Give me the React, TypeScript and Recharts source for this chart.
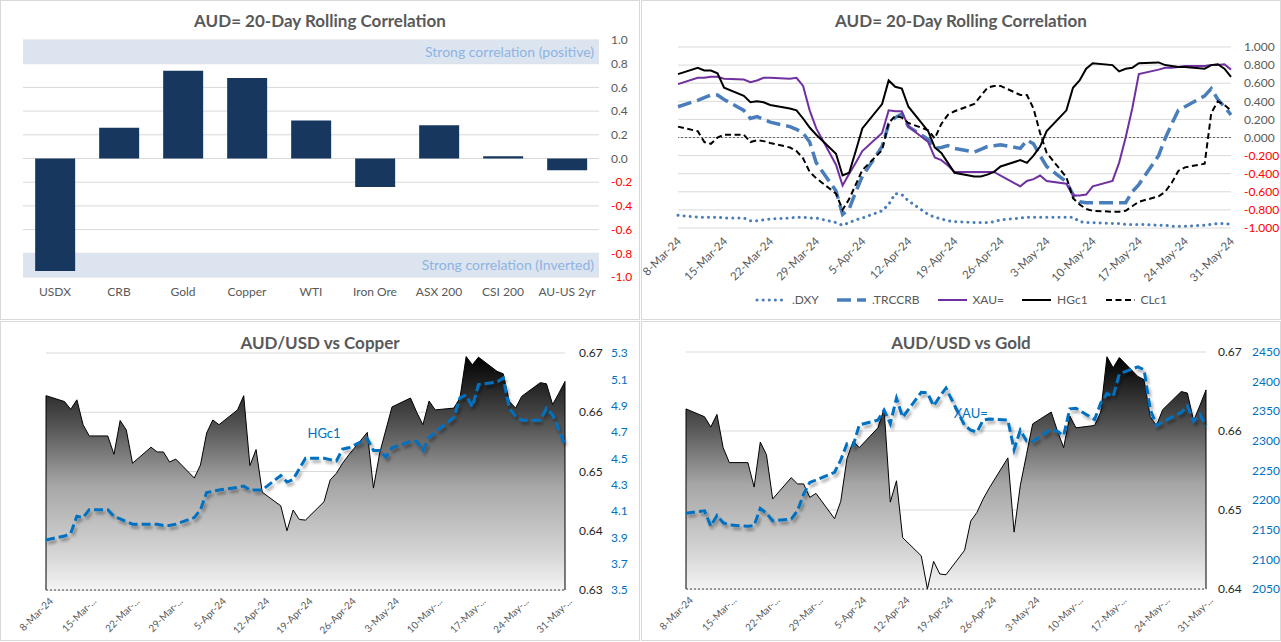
import React from 'react';
import {
  BarChart, Bar, XAxis, YAxis, CartesianGrid, ReferenceArea, ReferenceLine,
  LineChart, Line, ComposedChart, Area,
} from 'recharts';

const FONT = 'Lato, "Liberation Sans", sans-serif';
const GREY = '#595959';

// ---- 20-day rolling correlation snapshot (top left)
const corrNames = ['USDX', 'CRB', 'Gold', 'Copper', 'WTI', 'Iron Ore', 'ASX 200', 'CSI 200', 'AU-US 2yr'];
const corrValues = [-0.95, 0.26, 0.74, 0.68, 0.32, -0.24, 0.28, 0.02, -0.1];
const corrTicks = [-1, -0.8, -0.6, -0.4, -0.2, 0, 0.2, 0.4, 0.6, 0.8, 1];

// ---- trading days, as day offsets from 8-Mar-24
const tradeDays = [
  0, 3, 4, 5, 6, 7, 10, 11, 12, 13, 14, 17, 18, 19, 20, 21, 24, 25, 26, 27, 28,
  31, 32, 33, 34, 35, 38, 39, 40, 41, 42, 45, 46, 47, 48, 49, 52, 53, 54, 55, 56,
  59, 60, 61, 62, 63, 66, 67, 68, 69, 70, 73, 74, 75, 76, 77, 80, 81, 82, 83, 84,
];
const weekTicks = [0, 7, 14, 21, 28, 35, 42, 49, 56, 63, 70, 77, 84];
const corrDateLabels = ['8-Mar-24', '15-Mar-24', '22-Mar-24', '29-Mar-24', '5-Apr-24', '12-Apr-24', '19-Apr-24',
  '26-Apr-24', '3-May-24', '10-May-24', '17-May-24', '24-May-24', '31-May-24'];
const priceDateLabels = ['8-Mar-24', '15-Mar-...', '22-Mar-...', '29-Mar-...', '5-Apr-24', '12-Apr-24', '19-Apr-24',
  '26-Apr-24', '3-May-24', '10-May-...', '17-May-...', '24-May-...', '31-May-...'];

// ---- rolling correlation series (top right)
const dxyCorr = [
  -0.86, -0.88, -0.88, -0.88, -0.88, -0.89, -0.89, -0.92, -0.92, -0.91, -0.9,
  -0.89, -0.88, -0.88, -0.89, -0.89, -0.94, -0.97, -0.94, -0.91, -0.89,
  -0.81, -0.74, -0.62, -0.63, -0.7, -0.85, -0.88, -0.9, -0.92, -0.93,
  -0.94, -0.94, -0.94, -0.93, -0.91, -0.89, -0.88, -0.88, -0.88, -0.88,
  -0.88, -0.88, -0.93, -0.94, -0.94, -0.95, -0.95, -0.96, -0.96, -0.96,
  -0.97, -0.97, -0.98, -0.98, -0.98, -0.97, -0.96, -0.95, -0.95, -0.96,
];
const crbCorr = [
  0.34, 0.41, 0.44, 0.47, 0.47, 0.42, 0.3, 0.21, 0.23, 0.2, 0.17,
  0.12, 0.09, 0.05, -0.05, -0.28, -0.59, -0.85, -0.79, -0.6, -0.43,
  -0.1, 0.15, 0.22, 0.26, 0.12, -0.02, -0.12, -0.11, -0.09, -0.12,
  -0.16, -0.13, -0.1, -0.09, -0.08, -0.12, -0.03, -0.07, -0.2, -0.32,
  -0.49, -0.63, -0.71, -0.72, -0.72, -0.72, -0.72, -0.72, -0.6, -0.52,
  -0.2, -0.01, 0.15, 0.3, 0.34, 0.46, 0.54, 0.42, 0.34, 0.25,
];
const xauCorr = [
  0.59, 0.66, 0.66, 0.67, 0.67, 0.65, 0.64, 0.61, 0.63, 0.66, 0.66,
  0.65, 0.66, 0.57, 0.3, 0.1, -0.3, -0.53, -0.4, -0.28, -0.15,
  0.05, 0.3, 0.29, 0.29, 0.12, -0.05, -0.22, -0.25, -0.31, -0.38,
  -0.38, -0.38, -0.38, -0.38, -0.42, -0.54, -0.48, -0.46, -0.42, -0.48,
  -0.51, -0.64, -0.64, -0.63, -0.54, -0.48, -0.28, 0.0, 0.32, 0.7,
  0.75, 0.77, 0.77, 0.78, 0.79, 0.79, 0.8, 0.8, 0.81, 0.75,
];
const hgCorr = [
  0.7, 0.77, 0.74, 0.74, 0.71, 0.55, 0.46, 0.39, 0.4, 0.39, 0.36,
  0.32, 0.3, 0.21, 0.11, 0.03, -0.18, -0.42, -0.39, -0.15, 0.1,
  0.37, 0.63, 0.56, 0.54, 0.34, 0.07, -0.11, -0.17, -0.28, -0.39,
  -0.43, -0.43, -0.41, -0.38, -0.32, -0.25, -0.28, -0.2, -0.1, 0.07,
  0.3, 0.55, 0.63, 0.76, 0.82, 0.8, 0.73, 0.76, 0.77, 0.82,
  0.83, 0.8, 0.79, 0.78, 0.78, 0.76, 0.8, 0.81, 0.76, 0.67,
];
const clCorr = [
  0.12, 0.07, -0.05, -0.07, 0.0, 0.03, 0.03, -0.05, -0.03, -0.04, -0.06,
  -0.11, -0.15, -0.23, -0.38, -0.45, -0.62, -0.8, -0.68, -0.52, -0.36,
  -0.14, 0.16, 0.24, 0.22, 0.16, 0.08, -0.01, 0.15, 0.25, 0.29,
  0.37, 0.46, 0.55, 0.57, 0.57, 0.47, 0.47, 0.32, 0.05, -0.17,
  -0.44, -0.67, -0.74, -0.79, -0.81, -0.82, -0.82, -0.81, -0.76, -0.71,
  -0.65, -0.6, -0.5, -0.37, -0.33, -0.29, 0.27, 0.4, 0.36, 0.3,
];

// ---- prices (bottom)
const audUsd = [
  0.6628, 0.6618, 0.6605, 0.6621, 0.6579, 0.656, 0.656, 0.6529, 0.6586, 0.657, 0.6514,
  0.6541, 0.6533, 0.6533, 0.6516, 0.6521, 0.6489, 0.6511, 0.6565, 0.6587, 0.6579,
  0.6604, 0.6628, 0.651, 0.6537, 0.6465, 0.6442, 0.64, 0.6435, 0.6419, 0.6418,
  0.6449, 0.6486, 0.6497, 0.6514, 0.6528, 0.6566, 0.6472, 0.6531, 0.657, 0.6609,
  0.6624, 0.66, 0.6579, 0.6619, 0.6604, 0.6607, 0.6624, 0.6694, 0.668, 0.6693,
  0.6669, 0.6665, 0.6618, 0.6607, 0.6627, 0.665, 0.6648, 0.6613, 0.6632, 0.6652,
];
const copper = [
  3.88, 3.91, 3.93, 4.06, 4.05, 4.11, 4.11, 4.06, 4.04, 4.02, 4.0,
  4.0, 4.0, 3.99, 3.99, 4.0, 4.05, 4.11, 4.24, 4.25, 4.26,
  4.28, 4.29, 4.26, 4.26, 4.26, 4.37, 4.32, 4.34, 4.42, 4.5,
  4.5, 4.49, 4.48, 4.57, 4.58, 4.65, 4.56, 4.56, 4.51, 4.58,
  4.63, 4.63, 4.56, 4.66, 4.7, 4.81, 4.96, 4.98, 4.89, 5.06,
  5.08, 5.11, 4.88, 4.82, 4.79, 4.79, 4.88, 4.83, 4.72, 4.6,
];
const gold = [
  2178, 2182, 2156, 2174, 2162, 2158, 2156, 2157, 2186, 2178, 2165,
  2168, 2182, 2210, 2230, 2234, 2247, 2268, 2295, 2292, 2327,
  2335, 2352, 2329, 2372, 2340, 2382, 2381, 2359, 2375, 2389,
  2326, 2318, 2315, 2335, 2337, 2335, 2285, 2318, 2300, 2299,
  2320, 2316, 2309, 2354, 2355, 2336, 2364, 2380, 2375, 2413,
  2425, 2420, 2353, 2326, 2332, 2348, 2359, 2333, 2345, 2325,
];
const audTicksCu = [0.63, 0.64, 0.65, 0.66, 0.67];
const cuTicks = [3.5, 3.7, 3.9, 4.1, 4.3, 4.5, 4.7, 4.9, 5.1, 5.3];
const audTicksAu = [0.64, 0.65, 0.66, 0.67];
const goldTicks = [2050, 2100, 2150, 2200, 2250, 2300, 2350, 2400, 2450];

const barRows = corrNames.map((name, i) => ({ name, v: corrValues[i] }));
const corrRows = tradeDays.map((d, i) => ({
  d, dxy: dxyCorr[i], crb: crbCorr[i], xau: xauCorr[i], hg: hgCorr[i], cl: clCorr[i],
}));
const cuRows = tradeDays.map((d, i) => ({ d, aud: audUsd[i], px: copper[i] }));
const auRows = tradeDays.map((d, i) => ({ d, aud: audUsd[i], px: gold[i] }));

const BLUE = '#4a7ebb';
const PX_BLUE = '#0070c0';

function Panel({ left, top, title, titleTop, children }: any) {
  return (
    <div style={{
      position: 'absolute', left, top, width: 640, height: 320, background: '#fff',
      boxShadow: 'inset 0 0 0 1px #d9d9d9',
    }}>
      <div style={{
        position: 'absolute', left: 0, top: titleTop, width: 640, textAlign: 'center',
        fontFamily: FONT, fontWeight: 700, fontSize: 17, color: GREY, lineHeight: '20px',
      }}>{title}</div>
      <div style={{ position: 'absolute', left: 0, top: 0 }}>{children}</div>
    </div>
  );
}

function ValueTick(props: any) {
  const { x, y, payload, digits, color, redNeg } = props;
  const v = payload.value;
  const fill = redNeg && v < -1e-9 ? '#ff0000' : color;
  return (
    <text x={x} y={y} dy="0.35em" textAnchor="start" fontSize={12} fontFamily={FONT} fill={fill}>
      {v.toFixed(digits)}
    </text>
  );
}

function CatTick(props: any) {
  const { x, y, payload } = props;
  return (
    <text x={x} y={y} dy="0.71em" textAnchor="middle" fontSize={12} fontFamily={FONT} fill={GREY}>
      {payload.value}
    </text>
  );
}

function DateTick(props: any) {
  const { x, y, payload, labels, size, offX, offY } = props;
  const idx = weekTicks.indexOf(payload.value);
  const ax = x + offX;
  const ay = y + offY;
  return (
    <text x={ax} y={ay} transform={`rotate(-45 ${ax} ${ay})`} textAnchor="end" fontSize={size}
      fontFamily={FONT} fill={GREY} dominantBaseline="middle">
      {labels[idx]}
    </text>
  );
}

function CorrBars() {
  return (
    <BarChart width={640} height={320} data={barRows} margin={{ top: 40, right: 0, bottom: 15, left: 23 }}
      barCategoryGap="19%">
      <CartesianGrid vertical={false} stroke="#d9d9d9" />
      <ReferenceArea y1={0.8} y2={1} fill="#dce4f0" fillOpacity={1} stroke="none"
        label={{ value: 'Strong correlation (positive)', position: 'insideRight', fill: '#8db4e2', fontSize: 14, fontFamily: FONT }} />
      <ReferenceArea y1={-1} y2={-0.8} fill="#dce4f0" fillOpacity={1} stroke="none"
        label={{ value: 'Strong correlation (Inverted)', position: 'insideRight', fill: '#8db4e2', fontSize: 14, fontFamily: FONT }} />
      <XAxis dataKey="name" interval={0} tickLine={false} axisLine={false} tickSize={0} tickMargin={10}
        height={28} tick={<CatTick />} />
      <YAxis orientation="right" domain={[-1, 1]} ticks={corrTicks} interval={0} width={41} tickLine={false}
        axisLine={false} tickSize={0} tickMargin={12} tick={<ValueTick digits={1} color={GREY} redNeg />} />
      <Bar dataKey="v" fill="#17375e" isAnimationActive={false} />
    </BarChart>
  );
}

const legendItems = [
  { name: '.DXY', color: BLUE, width: 3, dash: '0.1 6', cap: 'round' },
  { name: '.TRCCRB', color: BLUE, width: 3.5, dash: '14 6', cap: 'butt' },
  { name: 'XAU=', color: '#7030a0', width: 2, dash: undefined, cap: 'butt' },
  { name: 'HGc1', color: '#000', width: 2, dash: undefined, cap: 'butt' },
  { name: 'CLc1', color: '#000', width: 2, dash: '6 3.5', cap: 'butt' },
];

function CorrLines() {
  return (
    <>
      <LineChart width={640} height={320} data={corrRows} margin={{ top: 47, right: 0, bottom: 32, left: 37 }}>
        <CartesianGrid vertical={false} stroke="#d9d9d9" />
        <XAxis dataKey="d" type="number" domain={[0, 84]} ticks={weekTicks} interval={0} tickLine={false}
          axisLine={false} tickSize={0} tickMargin={0} height={60}
          tick={<DateTick labels={corrDateLabels} size={11.5} offX={2} offY={12} />} />
        <YAxis orientation="right" domain={[-1, 1]} ticks={corrTicks} interval={0} width={50} tickLine={false}
          axisLine={false} tickSize={0} tickMargin={13} tick={<ValueTick digits={3} color={GREY} redNeg />} />
        <ReferenceLine y={0} stroke="#404040" strokeWidth={0.75} strokeDasharray="2 2" />
        <Line dataKey="dxy" type="linear" stroke={BLUE} strokeWidth={3} strokeDasharray="0.1 6"
          strokeLinecap="round" dot={false} isAnimationActive={false} />
        <Line dataKey="crb" type="linear" stroke={BLUE} strokeWidth={3.5} strokeDasharray="14 6"
          dot={false} isAnimationActive={false} />
        <Line dataKey="xau" type="linear" stroke="#7030a0" strokeWidth={2} dot={false} isAnimationActive={false} />
        <Line dataKey="hg" type="linear" stroke="#000" strokeWidth={2} dot={false} isAnimationActive={false} />
        <Line dataKey="cl" type="linear" stroke="#000" strokeWidth={2} strokeDasharray="6 3.5"
          dot={false} isAnimationActive={false} />
      </LineChart>
      <div style={{
        position: 'absolute', left: 0, top: 291, width: 640, display: 'flex', justifyContent: 'center',
        fontFamily: FONT, fontSize: 12, color: GREY, gap: 16, lineHeight: '18px',
      }}>
        {legendItems.map((it) => (
          <div key={it.name} style={{ display: 'flex', alignItems: 'center', gap: 4 }}>
            <svg width={33} height={10}>
              <line x1={2} y1={5} x2={31} y2={5} stroke={it.color} strokeWidth={it.width}
                strokeDasharray={it.dash} strokeLinecap={it.cap as any} />
            </svg>
            <span>{it.name}</span>
          </div>
        ))}
      </div>
    </>
  );
}

function PriceChart({ rows, id, audDomain, audTicks, pxDomain, pxTicks, pxDigits, label, labelDay, labelDy, margin, audGap }: any) {
  const labelIdx = tradeDays.indexOf(labelDay);
  const renderLabel = (p: any) => {
    if (p.index !== labelIdx) return <g />;
    return (
      <text x={p.x} y={p.y + labelDy} textAnchor="middle" fontSize={13} fontFamily={FONT} fill={PX_BLUE}>
        {label}
      </text>
    );
  };
  const first = rows[0];
  const last = rows[rows.length - 1];
  return (
    <ComposedChart width={640} height={320} data={rows} margin={margin}>
      <defs>
        <linearGradient id={`fill-${id}`} x1="0" y1="0" x2="0" y2="1">
          <stop offset="0" stopColor="#000000" />
          <stop offset="0.3" stopColor="#555555" />
          <stop offset="0.55" stopColor="#a6a6a6" />
          <stop offset="0.85" stopColor="#d6d6d6" />
          <stop offset="1" stopColor="#f4f4f4" />
        </linearGradient>
        <filter id={`shadow-${id}`} x="-10%" y="-20%" width="120%" height="150%">
          <feDropShadow dx="2" dy="3" stdDeviation="1.6" floodColor="#000" floodOpacity="0.35" />
        </filter>
      </defs>
      <CartesianGrid vertical={false} stroke="#d9d9d9" yAxisId="aud" />
      <XAxis dataKey="d" type="number" domain={[0, 84]} ticks={weekTicks} interval={0} tickLine={false}
        axisLine={{ stroke: '#404040', strokeDasharray: '2 2' }} tickSize={0} tickMargin={0} height={45}
        tick={<DateTick labels={priceDateLabels} size={10} offX={6} offY={10} />} />
      <YAxis yAxisId="aud" orientation="right" domain={audDomain} ticks={audTicks} interval={0} width={38}
        tickLine={false} axisLine={false} tickSize={0} tickMargin={audGap}
        tick={<ValueTick digits={2} color="#262626" />} />
      <YAxis yAxisId="px" orientation="right" domain={pxDomain} ticks={pxTicks} interval={0} width={37}
        tickLine={false} axisLine={false} tickSize={0} tickMargin={8}
        tick={<ValueTick digits={pxDigits} color={PX_BLUE} />} />
      <Area yAxisId="aud" dataKey="aud" type="linear" stroke="#000" strokeWidth={1} fill={`url(#fill-${id})`}
        fillOpacity={1} isAnimationActive={false} />
      <ReferenceLine yAxisId="aud" segment={[{ x: first.d, y: audDomain[0] }, { x: first.d, y: first.aud }]} stroke="#000" />
      <ReferenceLine yAxisId="aud" segment={[{ x: last.d, y: audDomain[0] }, { x: last.d, y: last.aud }]} stroke="#000" />
      <Line yAxisId="px" dataKey="px" type="linear" stroke={PX_BLUE} strokeWidth={3} strokeDasharray="9 4"
        dot={false} filter={`url(#shadow-${id})`} label={renderLabel} isAnimationActive={false} />
    </ComposedChart>
  );
}

export default function App() {
  return (
    <div style={{ position: 'absolute', left: 0, top: 0, width: 1281, height: 642, background: '#fff' }}>
      <Panel left={0} top={0} title="AUD= 20-Day Rolling Correlation" titleTop={11}>
        <CorrBars />
      </Panel>
      <Panel left={641} top={0} title="AUD= 20-Day Rolling Correlation" titleTop={11}>
        <CorrLines />
      </Panel>
      <Panel left={0} top={321} title="AUD/USD vs Copper" titleTop={12}>
        <PriceChart rows={cuRows} id="cu" audDomain={[0.63, 0.67]} audTicks={audTicksCu} pxDomain={[3.5, 5.3]}
          pxTicks={cuTicks} pxDigits={1} label="HGc1" labelDay={45} labelDy={-20} audGap={14}
          margin={{ top: 32, right: 0, bottom: 6, left: 46 }} />
      </Panel>
      <Panel left={641} top={321} title="AUD/USD vs Gold" titleTop={12}>
        <PriceChart rows={auRows} id="au" audDomain={[0.64, 0.67]} audTicks={audTicksAu} pxDomain={[2050, 2450]}
          pxTicks={goldTicks} pxDigits={0} label="XAU=" labelDay={46} labelDy={-12} audGap={12}
          margin={{ top: 31, right: 0, bottom: 7, left: 45 }} />
      </Panel>
    </div>
  );
}
